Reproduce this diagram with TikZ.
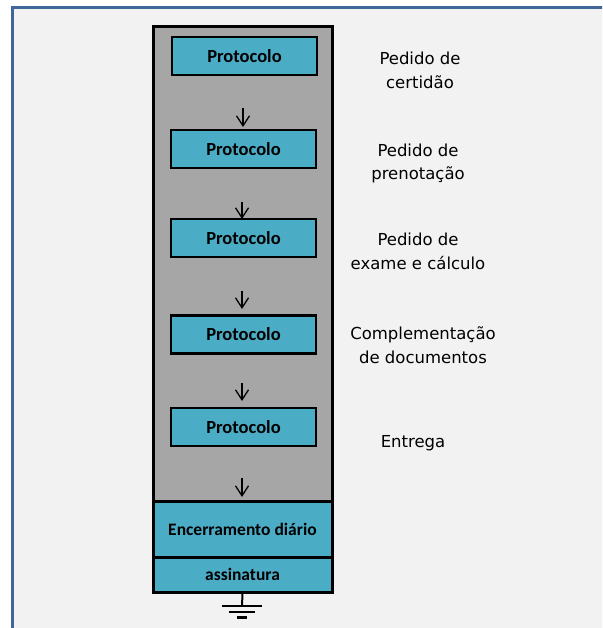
\documentclass[tikz,border=0pt]{standalone}
\usepackage{fontspec}
\setmainfont{DejaVu Sans}
\newfontfamily\boxfont{Carlito}
\usetikzlibrary{arrows.meta}
\definecolor{bgc}{HTML}{F2F2F2}
\definecolor{framec}{HTML}{41679A}
\definecolor{teal}{HTML}{4BACC6}
\definecolor{grayc}{HTML}{A6A6A6}
\tikzset{
  protbox/.style={draw=black, line width=2.5pt, fill=teal, minimum width=145pt, minimum height=38pt, inner sep=0pt, font=\boxfont\fontsize{18.5}{20}\selectfont\bfseries},
  lbl/.style={align=center, font=\fontsize{16.5}{23.5}\selectfont, inner sep=0pt},
  flow/.style={-{Straight Barb[length=10pt,width=13pt]}, line width=1.3pt, black},
  lower/.style={draw=black, line width=3pt, fill=teal, inner sep=0pt, font=\boxfont\fontsize{17.5}{20}\selectfont\bfseries}
}
\begin{document}
\begin{tikzpicture}[x=1pt,y=-1pt]
\useasboundingbox (0,0) rectangle (602,628);
\begin{scope}
\clip (0,0) rectangle (602,628);
\fill[white] (0,0) rectangle (602,628);
\fill[bgc] (12.5,7.5) rectangle (620,640);
\draw[framec, line width=3pt] (620,7.5) -- (12.5,7.5) -- (12.5,640);
\end{scope}
% container
\node[draw=black, line width=3pt, fill=grayc, minimum width=179pt, minimum height=565pt, inner sep=0pt] (cont) at (242.5,309.5) {};
\node[lower, minimum width=179pt, minimum height=56pt] (enc) at (242.5,529) {Encerramento diário};
\node[lower, minimum width=179pt, minimum height=35pt] (ass) at (242.5,574.5) {assinatura};
% protocol boxes
\node[protbox] (p1) at (244.5,56) {Protocolo};
\node[protbox] (p2) at (243.5,149) {Protocolo};
\node[protbox] (p3) at (243.5,238) {Protocolo};
\node[protbox] (p4) at (243.5,334.5) {Protocolo};
\node[protbox] (p5) at (243.5,427) {Protocolo};
% arrows
\coordinate (a1s) at (243,108); \coordinate (a1e) at (243,127);
\coordinate (a2s) at (242,202); \coordinate (a2e) at (242,219);
\coordinate (a3s) at (242,291); \coordinate (a3e) at (242,309);
\coordinate (a4s) at (242,383); \coordinate (a4e) at (242,401);
\coordinate (a5s) at (242,478); \coordinate (a5e) at (242,497);
\draw[flow] (a1s) -- (a1e);
\draw[flow] (a2s) -- (a2e);
\draw[flow] (a3s) -- (a3e);
\draw[flow] (a4s) -- (a4e);
\draw[flow] (a5s) -- (a5e);
% labels
\node[lbl] (l1) at (420,70.5) {Pedido de\\certidão};
\node[lbl] (l2) at (418,163.5) {Pedido de\\prenotação};
\node[lbl] (l3) at (418,251.5) {Pedido de\\exame e cálculo};
\node[lbl] (l4) at (423,345) {Complementação\\de documentos};
\node[lbl] (l5) at (413,443) {Entrega};
% ground
\coordinate (g0) at (242,606);
\draw[line width=2pt] (ass.south) -- (g0);
\draw[line width=2pt] (222,606) -- (262,606);
\draw[line width=2pt] (229,612) -- (255,612);
\draw[line width=2.2pt] (237,617.5) -- (247,617.5);
\end{tikzpicture}
\end{document}
